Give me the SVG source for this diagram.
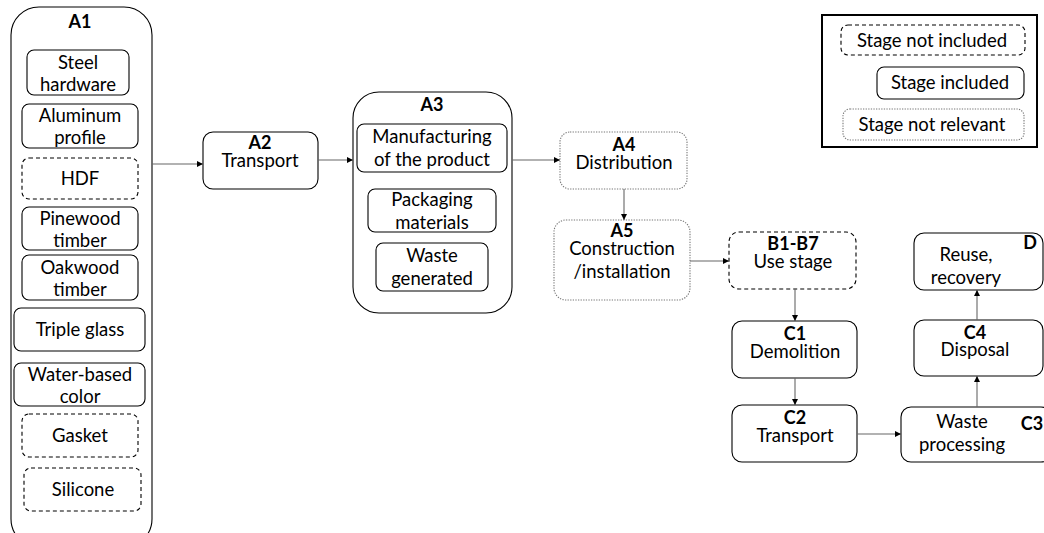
<svg xmlns="http://www.w3.org/2000/svg" width="1044" height="533" viewBox="0 0 1044 533">
<defs>
<style>
text{font-family:Lato,"Open Sans","DejaVu Sans",sans-serif;font-size:18.5px;fill:#000;text-anchor:middle}
.b{font-weight:bold;font-size:18px}
.box{fill:#fff;stroke:#000;stroke-width:1.1}
.dash{fill:#fff;stroke:#000;stroke-width:1.1;stroke-dasharray:4 3}
.dot{fill:#fff;stroke:#777;stroke-width:1.1;stroke-dasharray:1.3 1.3}
.con{fill:none;stroke:#666;stroke-width:1.1;marker-end:url(#ah)}
</style>
<marker id="ah" viewBox="0 0 10 10" refX="10" refY="5" markerWidth="6" markerHeight="6" markerUnits="userSpaceOnUse" orient="auto"><path d="M0,0L10,5L0,10z" fill="#000"/></marker>
</defs>

<g id="A1">
<rect class="box" x="11" y="7" width="141" height="540" rx="28"/>
<text class="b" x="80" y="28">A1</text>
</g>
<g id="steel"><rect class="box" x="27" y="50" width="102" height="45" rx="7"/><text x="78" y="69">Steel</text><text x="78" y="91">hardware</text></g>
<g id="alu"><rect class="box" x="22" y="104" width="116" height="44" rx="7"/><text x="80" y="122">Aluminum</text><text x="80" y="144">profile</text></g>
<g id="hdf"><rect class="dash" x="22" y="158" width="116" height="41" rx="7"/><text x="80" y="185">HDF</text></g>
<g id="pine"><rect class="box" x="22" y="207" width="116" height="43" rx="7"/><text x="80" y="225">Pinewood</text><text x="80" y="247">timber</text></g>
<g id="oak"><rect class="box" x="22" y="255" width="116" height="45" rx="7"/><text x="80" y="274">Oakwood</text><text x="80" y="296">timber</text></g>
<g id="glass"><rect class="box" x="14" y="308" width="131" height="43" rx="7"/><text x="80" y="336">Triple glass</text></g>
<g id="color"><rect class="box" x="14" y="363" width="131" height="43" rx="7"/><text x="80" y="381">Water-based</text><text x="80" y="403">color</text></g>
<g id="gasket"><rect class="dash" x="22" y="414" width="116" height="43" rx="7"/><text x="80" y="442">Gasket</text></g>
<g id="silicone"><rect class="dash" x="24" y="468" width="117" height="43" rx="7"/><text x="83" y="496">Silicone</text></g>

<g id="A2"><rect class="box" x="203" y="132" width="115" height="57" rx="10"/><text class="b" x="260" y="149">A2</text><text x="260" y="167">Transport</text></g>

<g id="A3"><rect class="box" x="353" y="92" width="159" height="221" rx="26"/><text class="b" x="432" y="111">A3</text></g>
<g id="manuf"><rect class="box" x="357" y="124" width="150" height="48" rx="7"/><text x="432" y="143">Manufacturing</text><text x="432" y="166">of the product</text></g>
<g id="pack"><rect class="box" x="368" y="189" width="128" height="43" rx="7"/><text x="432" y="206">Packaging</text><text x="432" y="229">materials</text></g>
<g id="waste"><rect class="box" x="376" y="243" width="112" height="48" rx="7"/><text x="432" y="262">Waste</text><text x="432" y="285">generated</text></g>

<g id="A4"><rect class="dot" x="560" y="132" width="127" height="57" rx="10"/><text class="b" x="624" y="151">A4</text><text x="624" y="169">Distribution</text></g>
<g id="A5"><rect class="dot" x="554" y="220" width="136" height="80" rx="12"/><text class="b" x="622" y="237">A5</text><text x="622" y="255">Construction</text><text x="622" y="278">/installation</text></g>

<g id="B"><rect class="dash" x="729" y="232" width="127" height="57" rx="10"/><text class="b" x="793" y="250">B1-B7</text><text x="793" y="268">Use stage</text></g>
<g id="C1"><rect class="box" x="732" y="321" width="125" height="57" rx="10"/><text class="b" x="795" y="340">C1</text><text x="795" y="358">Demolition</text></g>
<g id="C2"><rect class="box" x="732" y="405" width="125" height="57" rx="10"/><text class="b" x="795" y="424">C2</text><text x="795" y="442">Transport</text></g>
<g id="C3"><rect class="box" x="901" y="407" width="150" height="55" rx="10"/><text x="962" y="428">Waste</text><text x="962" y="451">processing</text><text class="b" x="1032" y="430">C3</text></g>
<g id="C4"><rect class="box" x="914" y="320" width="129" height="56" rx="10"/><text class="b" x="975" y="339">C4</text><text x="975" y="356">Disposal</text></g>
<g id="D"><rect class="box" x="914" y="233" width="129" height="57" rx="10"/><text x="966" y="261">Reuse,</text><text x="966" y="284">recovery</text><text class="b" x="1030" y="249">D</text></g>

<g id="legend">
<rect x="822" y="15" width="215" height="132" fill="#fff" stroke="#000" stroke-width="2"/>
<rect class="dash" x="841" y="25" width="184" height="30" rx="7"/><text x="932" y="47">Stage not included</text>
<rect class="box" x="877" y="67" width="147" height="32" rx="7"/><text x="950" y="89">Stage included</text>
<rect class="dot" x="843" y="109" width="181" height="31" rx="7"/><text x="932" y="131">Stage not relevant</text>
</g>

<g id="connectors">
<path class="con" d="M152,164H203"/>
<path class="con" d="M318,160H353"/>
<path class="con" d="M512,160H560"/>
<path class="con" d="M624,189V220"/>
<path class="con" d="M690,261H729"/>
<path class="con" d="M795,289V321"/>
<path class="con" d="M795,378V405"/>
<path class="con" d="M857,434H901"/>
<path class="con" d="M977,407V376"/>
<path class="con" d="M977,320V290"/>
</g>
</svg>
